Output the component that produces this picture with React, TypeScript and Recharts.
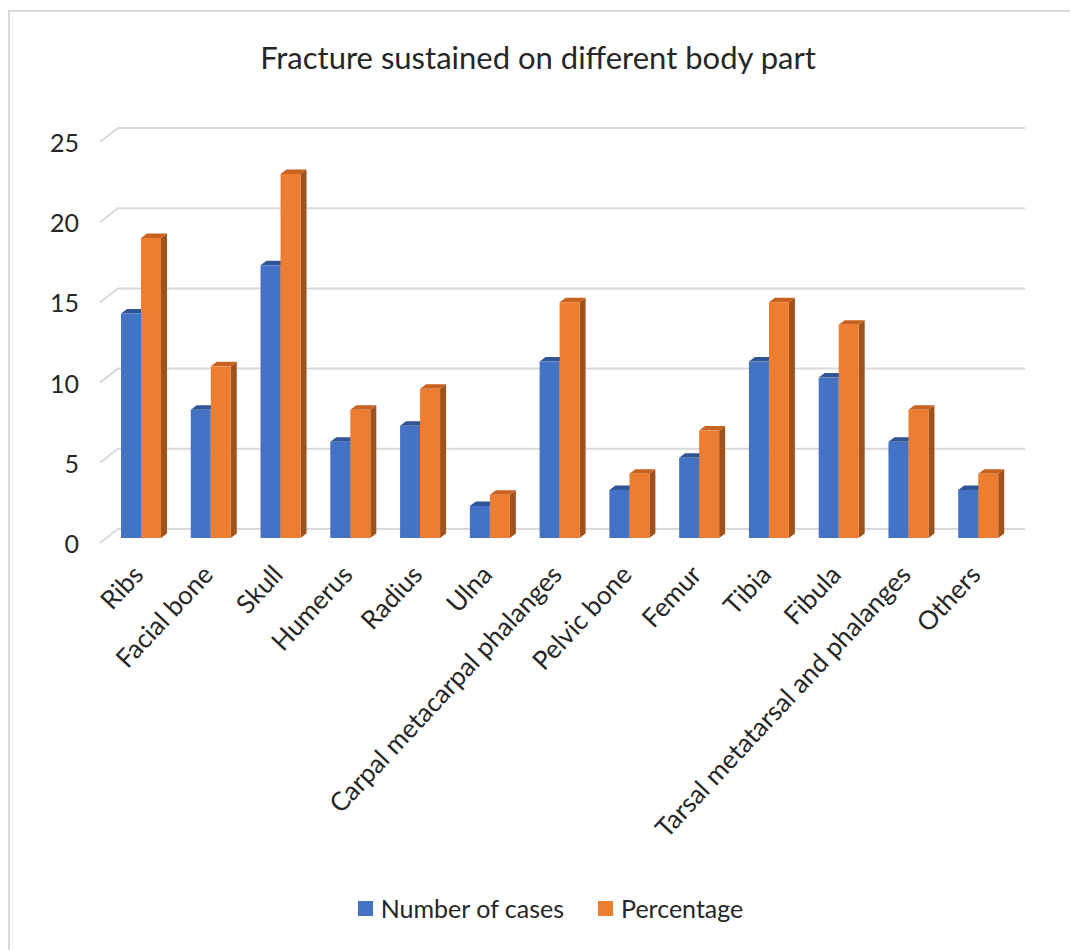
import React from 'react';
import { BarChart, Bar, XAxis, YAxis, CartesianGrid, Legend } from 'recharts';

const categories = [
  'Ribs', 'Facial bone', 'Skull', 'Humerus', 'Radius', 'Ulna',
  'Carpal metacarpal phalanges', 'Pelvic bone', 'Femur', 'Tibia', 'Fibula',
  'Tarsal metatarsal and phalanges', 'Others',
];
const numberOfCases = [14, 8, 17, 6, 7, 2, 11, 3, 5, 11, 10, 6, 3];
const percentage = [18.7, 10.7, 22.7, 8, 9.3, 2.7, 14.7, 4, 6.7, 14.7, 13.3, 8, 4];
const yTicks = [0, 5, 10, 15, 20, 25];
const seriesNames = ['Number of cases', 'Percentage'];
const titleText = 'Fracture sustained on different body part';

const data = categories.map((name, i) => ({
  name,
  cases: numberOfCases[i],
  pct: percentage[i],
}));

const FONT = 'Lato, "Noto Sans", sans-serif';
const TEXT = '#262626';
const GRID = '#d9d9d9';
// 3D offsets
const BAR_DX = -12;
const BAR_DY = 9;
const DEPTH_X = 6;
const DEPTH_Y = 4.5;
const FLOOR_DX = -18;
const FLOOR_DY = 14;

const make3DBar = (front: string, top: string, side: string) => (props: any) => {
  const { x, y, width: w, height: h } = props;
  if (h == null || w == null || isNaN(h)) return <g />;
  const fx = x + BAR_DX;
  const fy = y + BAR_DY;
  return (
    <g>
      <polygon
        points={`${fx + w},${fy} ${fx + w + DEPTH_X},${fy - DEPTH_Y} ${fx + w + DEPTH_X},${fy + h - DEPTH_Y} ${fx + w},${fy + h}`}
        fill={side}
      />
      <polygon
        points={`${fx},${fy} ${fx + w},${fy} ${fx + w + DEPTH_X},${fy - DEPTH_Y} ${fx + DEPTH_X},${fy - DEPTH_Y}`}
        fill={top}
      />
      <rect x={fx} y={fy} width={w} height={h} fill={front} />
    </g>
  );
};

const blueShape = make3DBar('#4472C4', '#2F5597', '#2F528F');
const orangeShape = make3DBar('#ED7D31', '#C8621E', '#A0521C');

const gridLine = (props: any) => {
  const { x1, y1, x2, y2, key } = props;
  return (
    <path
      key={key}
      d={`M${x1 + FLOOR_DX},${y1 + FLOOR_DY} L${x1},${y1} L${x2},${y2}`}
      stroke={GRID}
      strokeWidth={2}
      fill="none"
    />
  );
};

const YTick = (props: any) => {
  const { x, y, payload } = props;
  return (
    <text x={x - 31} y={y + 14} textAnchor="end" dominantBaseline="central"
      fontFamily={FONT} fontSize={25} fill={TEXT}>
      {payload.value}
    </text>
  );
};

const XTick = (props: any) => {
  const { x, y, payload } = props;
  const ax = x - 8;
  const ay = y + 39;
  return (
    <text x={ax} y={ay} textAnchor="end" transform={`rotate(-47 ${ax} ${ay})`}
      fontFamily={FONT} fontSize={26} fill={TEXT}>
      {payload.value}
    </text>
  );
};

const legendColors = ['#4472C4', '#ED7D31'];

const LegendContent = () => (
  <div style={{ display: 'flex', justifyContent: 'center', alignItems: 'center', height: 30, fontFamily: FONT, fontSize: 25, color: TEXT, paddingLeft: 18 }}>
    {seriesNames.map((n, i) => (
      <div key={n} style={{ display: 'flex', alignItems: 'center', marginRight: i === 0 ? 34 : 0 }}>
        <span style={{ display: 'inline-block', width: 15, height: 15, background: legendColors[i], marginRight: 8 }} />
        <span>{n}</span>
      </div>
    ))}
  </div>
);

export default function App() {
  return (
    <div style={{ position: 'absolute', left: 0, top: 0, width: 1070, height: 950, overflow: 'hidden', background: '#fff' }}>
      <div style={{ position: 'absolute', left: 8, top: 10, width: 1100, height: 1000, border: '2px solid #d9d9d9', boxSizing: 'border-box' }} />
      <div style={{ position: 'absolute', left: 0, top: 38, width: 1076, textAlign: 'center', fontFamily: FONT, fontSize: 31, color: TEXT, lineHeight: '38px' }}>
        {titleText}
      </div>
      <div style={{ position: 'absolute', left: 0, top: 0 }}>
        <BarChart width={1070} height={950} data={data} barGap={0} barSize={20}
          margin={{ top: 128, right: 45, left: 58, bottom: 0 }}>
          <CartesianGrid vertical={false} horizontal={gridLine} />
          <YAxis width={60} domain={[0, 25]} ticks={yTicks} axisLine={false} tickLine={false} tick={<YTick />} interval={0} />
          <XAxis dataKey="name" height={391} axisLine={false} tickLine={false} tick={<XTick />} interval={0} />
          <Legend verticalAlign="bottom" content={<LegendContent />} wrapperStyle={{ bottom: 27 }} />
          <Bar dataKey="cases" name={seriesNames[0]} fill="#4472C4" shape={blueShape} isAnimationActive={false} />
          <Bar dataKey="pct" name={seriesNames[1]} fill="#ED7D31" shape={orangeShape} isAnimationActive={false} />
        </BarChart>
      </div>
    </div>
  );
}
